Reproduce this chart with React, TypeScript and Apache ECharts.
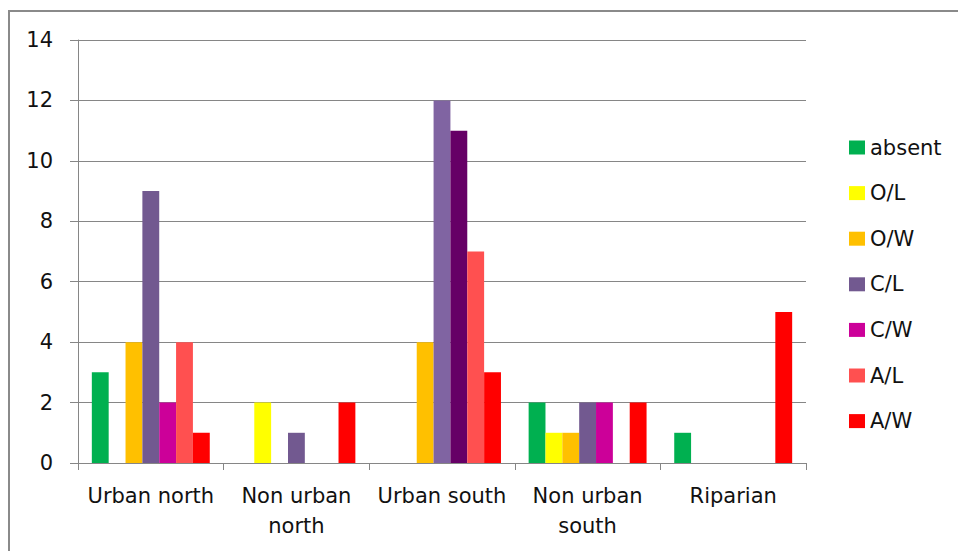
import React, { useEffect, useRef } from "react";
import * as echarts from "echarts";

const categories = ["Urban north", "Non urban\nnorth", "Urban south", "Non urban\nsouth", "Riparian"];
const seriesNames = ["absent", "O/L", "O/W", "C/L", "C/W", "A/L", "A/W"];
const absent = [3, 0, 0, 2, 1];
const ol = [0, 2, 0, 1, 0];
const ow = [4, 0, 4, 1, 0];
const cl = [9, 1, 12, 2, 0];
const cw = [2, 0, 11, 2, 0];
const al = [4, 0, 7, 0, 0];
const aw = [1, 2, 3, 2, 5];
const yTicks = [0, 2, 4, 6, 8, 10, 12, 14];

const colors = ["#00B050", "#FFFF00", "#FFC000", "#725990", "#CC0099", "#FF5050", "#FF0000"];
// per-point overrides seen in the picture (Urban south)
const overrides: Record<number, Record<number, string>> = {
  3: { 2: "#8064A2" },
  4: { 2: "#660066" },
};

const FONT = "DejaVu Sans";
const FS = 21;

export default function App() {
  const ref = useRef<HTMLDivElement>(null);
  useEffect(() => {
    if (!ref.current) return;
    const chart = echarts.init(ref.current, undefined, { renderer: "svg" });
    const all = [absent, ol, ow, cl, cw, al, aw];
    chart.setOption({
      animation: false,
      color: colors,
      textStyle: { fontFamily: FONT },
      graphic: [
        {
          type: "rect",
          shape: { x: 9, y: 11, width: 1000, height: 600 },
          style: { fill: "none", stroke: "#8a8a8a", lineWidth: 2 },
          silent: true,
        },
      ],
      legend: {
        orient: "vertical",
        left: 849,
        top: 137,
        padding: 0,
        itemWidth: 16,
        itemHeight: 14,
        itemGap: 24.6,
        icon: "rect",
        textStyle: { fontFamily: FONT, fontSize: FS, color: "#111" },
        data: seriesNames,
      },
      grid: { left: 78, right: 152, top: 40, bottom: 88, containLabel: false },
      xAxis: {
        type: "category",
        data: categories,
        axisLine: { lineStyle: { color: "#868686", width: 1 } },
        axisTick: { show: true, length: 7, lineStyle: { color: "#868686" } },
        axisLabel: { fontFamily: FONT, fontSize: FS, color: "#111", margin: 18, lineHeight: 30, interval: 0 },
      },
      yAxis: {
        type: "value",
        min: yTicks[0],
        max: yTicks[yTicks.length - 1],
        interval: 2,
        axisLine: { show: true, lineStyle: { color: "#868686", width: 1 } },
        axisTick: { show: true, length: 8, lineStyle: { color: "#868686" } },
        splitLine: { lineStyle: { color: "#868686", width: 1 } },
        axisLabel: { fontFamily: FONT, fontSize: FS, color: "#111", margin: 25 },
      },
      series: seriesNames.map((name, si) => ({
        name,
        type: "bar",
        barGap: "0%",
        barCategoryGap: "19%",
        data: all[si].map((v, ci) =>
          overrides[si] && overrides[si][ci] ? { value: v, itemStyle: { color: overrides[si][ci] } } : v
        ),
      })),
    });
    return () => chart.dispose();
  }, []);
  return <div ref={ref} style={{ position: "fixed", left: 0, top: 0, width: 958, height: 551, background: "#fff" }} />;
}
